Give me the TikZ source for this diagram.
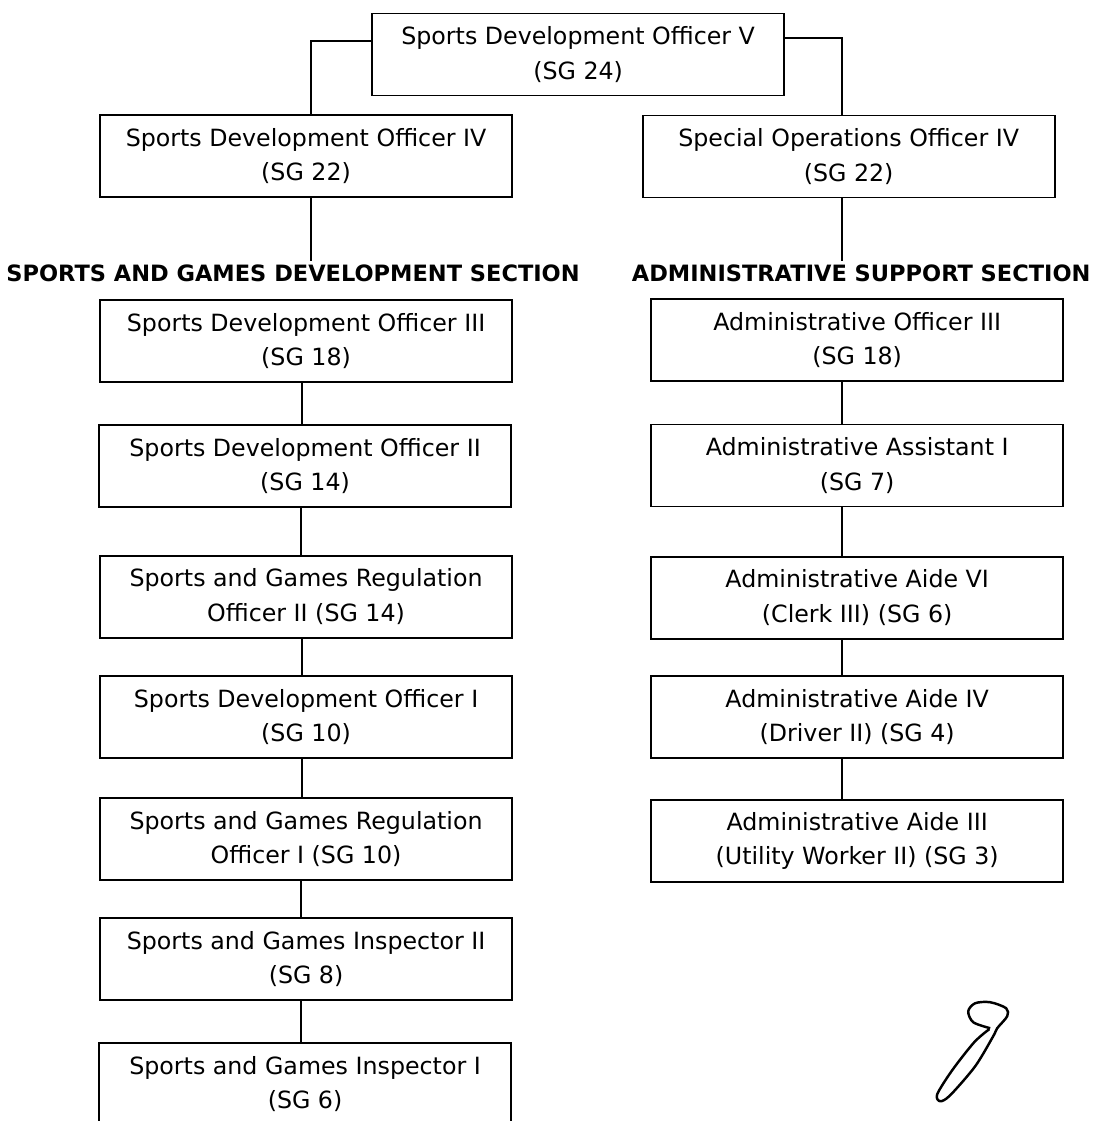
\documentclass[tikz,border=0pt]{standalone}
\usepackage{fontspec}
\setmainfont{DejaVu Sans}
\usepackage{tikz}
\newcommand{\px}{0.02}
\newcommand{\post}[4]{\node[postbox] (#1) at (#2*\px, -#3*\px) {#4};}
\newcommand{\sectiontitle}[4]{\node[sectionhead] (#1) at (#2*\px, -#3*\px) {#4};}
\tikzset{
  postbox/.style={draw, line width=1pt, minimum width=8.24cm, minimum height=1.64cm,
    align=center, inner sep=0pt, font=\fontsize{13.5}{19.5}\selectfont},
  sectionhead/.style={font=\bfseries\fontsize{12.8}{14}\selectfont, inner sep=2pt},
  link/.style={line width=1pt}
}

\begin{document}
\begin{tikzpicture}
  \path[use as bounding box] (0,0) rectangle (22.04,-22.42);
  \clip (0,0) rectangle (22.04,-22.42);
  % head and the two officers under him
  \post{top}{578}{54.5}{Sports Development Officer V\\(SG 24)}
  \post{sdofour}{306}{156}{Sports Development Officer IV\\(SG 22)}
  \post{soofour}{848.5}{156.5}{Special Operations Officer IV\\(SG 22)}
  \sectiontitle{lefthead}{293}{273}{SPORTS AND GAMES DEVELOPMENT SECTION}
  \sectiontitle{righthead}{861}{273}{ADMINISTRATIVE SUPPORT SECTION}
  % left column
  \post{sdothree}{306}{341}{Sports Development Officer III\\(SG 18)}
  \post{sdotwo}{305}{466}{Sports Development Officer II\\(SG 14)}
  \post{sgrotwo}{306}{596.5}{Sports and Games Regulation\\Officer II (SG 14)}
  \post{sdoone}{306}{717}{Sports Development Officer I\\(SG 10)}
  \post{sgroone}{306}{839}{Sports and Games Regulation\\Officer I (SG 10)}
  \post{sgitwo}{306}{959}{Sports and Games Inspector II\\(SG 8)}
  \post{sgione}{305}{1084}{Sports and Games Inspector I\\(SG 6)}
  % right column
  \post{aothree}{857}{340}{Administrative Officer III\\(SG 18)}
  \post{aaone}{857}{465.5}{Administrative Assistant I\\(SG 7)}
  \post{aidesix}{857}{597.5}{Administrative Aide VI\\(Clerk III) (SG 6)}
  \post{aidefour}{857}{717}{Administrative Aide IV\\(Driver II) (SG 4)}
  \post{aidethree}{857}{841}{Administrative Aide III\\(Utility Worker II) (SG 3)}
  % connectors
  \draw[link] ([yshift=0.27cm]top.west) -| ([xshift=0.1cm]sdofour.north);
  \draw[link] ([yshift=0.33cm]top.east) -| ([xshift=-0.14cm]soofour.north);
  \draw[link] ([xshift=0.1cm]sdofour.south) -- ([xshift=0.1cm]sdofour.south |- lefthead.north);
  \draw[link] ([xshift=-0.14cm]soofour.south) -- ([xshift=-0.14cm]soofour.south |- righthead.north);
  \foreach \a/\b/\d in {sdothree/sdotwo/-0.08, sdotwo/sgrotwo/-0.08, sgrotwo/sdoone/-0.08,
    sdoone/sgroone/-0.08, sgroone/sgitwo/-0.1, sgitwo/sgione/-0.1,
    aothree/aaone/-0.3, aaone/aidesix/-0.3, aidesix/aidefour/-0.3, aidefour/aidethree/-0.3}
    \draw[link] ([xshift=\d cm]\a.south) -- ([xshift=\d cm]\a.south |- \b.north);
  % signature
  \draw[line width=1.4pt, line join=round]
    plot[smooth] coordinates {(990*\px,-1028*\px) (973*\px,-1022*\px) (968*\px,-1011*\px)
      (975*\px,-1003*\px) (990*\px,-1002*\px) (1006*\px,-1008*\px) (1007*\px,-1016*\px)
      (997*\px,-1028*\px) (993*\px,-1036*\px) (975*\px,-1066*\px) (950*\px,-1095*\px)
      (940*\px,-1101*\px) (937*\px,-1094*\px) (952*\px,-1070*\px) (974*\px,-1042*\px)
      (989*\px,-1029*\px)};
\end{tikzpicture}
\end{document}
